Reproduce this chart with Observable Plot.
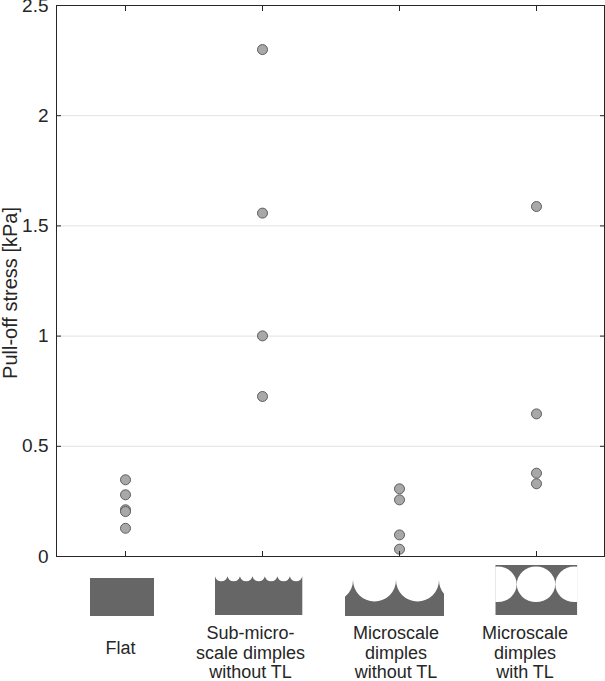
<!DOCTYPE html>
<html>
<head>
<meta charset="utf-8">
<script src="https://cdn.jsdelivr.net/npm/d3@7"></script>
<script src="https://cdn.jsdelivr.net/npm/@observablehq/plot@0.6"></script>
<style>
  html, body { margin: 0; padding: 0; background: white; }
</style>
</head>
<body>
<div id="chart"></div>
<script>
const categories = ["Flat", "Sub-micro-scale dimples without TL", "Microscale dimples without TL", "Microscale dimples with TL"];
const categoryLabels = ["Flat", "Sub-micro-\nscale dimples\nwithout TL", "Microscale\ndimples\nwithout TL", "Microscale\ndimples\nwith TL"];
const flatValues = [0.348, 0.28, 0.212, 0.204, 0.128];
const subMicroValues = [2.30, 1.558, 1.001, 0.726];
const microNoTLValues = [0.307, 0.257, 0.098, 0.033];
const microTLValues = [1.588, 0.647, 0.378, 0.33];
const yTicks = [0, 0.5, 1, 1.5, 2, 2.5];
const yLabel = "Pull-off stress [kPa]";

const series = [flatValues, subMicroValues, microNoTLValues, microTLValues];
const points = series.flatMap((vals, i) => vals.map(v => ({cat: categories[i], value: v})));
const labelRows = categories.map((c, i) => ({cat: c, label: categoryLabels[i]}));
// horizontal offsets of the label blocks relative to their ticks (layout only)
const labelShift = [-5, -12, -3.5, -11.5];
const labelDrop = [83.4, 69, 69, 69];

const ICON = "#666666";

function icons(index, scales) {
  const x = scales.x;
  const g = d3.create("svg:g");
  // Flat
  let cx = x(categories[0]);
  g.append("rect").attr("x", cx - 35).attr("y", 578).attr("width", 64).attr("height", 38).attr("fill", ICON);
  // Sub-micro dimples
  cx = x(categories[1]);
  {
    const x0 = cx - 47, x1 = cx + 40.3, n = 7, w = (x1 - x0) / n, yc = 576.3, s = 5;
    const r = (w * w / 4 + s * s) / (2 * s);
    let p = `M${x0},615 L${x0},${yc}`;
    for (let i = 1; i <= n; i++) p += ` A${r},${r} 0 0 0 ${x0 + w * i},${yc}`;
    p += ` L${x1},615 Z`;
    g.append("path").attr("d", p).attr("fill", ICON);
  }
  // Microscale dimples without TL
  cx = x(categories[2]);
  {
    const r = 21.5, yc = 580;
    const c = [cx - 46, cx - 3, cx + 40];
    const x0 = cx - 54, x1 = cx + 45;
    const yL = yc + Math.sqrt(r * r - Math.pow(x0 - (c[0] - r), 2));
    const yR = yc + Math.sqrt(r * r - Math.pow(x1 - (c[2] + r), 2));
    let p = `M${x0},616 L${x0},${yL} A${r},${r} 0 0 0 ${c[0]},${yc}`;
    p += ` A${r},${r} 0 0 0 ${c[1]},${yc} A${r},${r} 0 0 0 ${c[2]},${yc}`;
    p += ` A${r},${r} 0 0 0 ${x1},${yR} L${x1},616 Z`;
    g.append("path").attr("d", p).attr("fill", ICON);
  }
  // Microscale dimples with TL
  cx = x(categories[3]);
  {
    const left = cx - 40.7, right = cx + 41.3;
    const clipId = "tlclip";
    g.append("clipPath").attr("id", clipId).append("rect")
      .attr("x", left).attr("y", 565).attr("width", right - left).attr("height", 50);
    const gg = g.append("g").attr("clip-path", `url(#${clipId})`);
    gg.append("rect").attr("x", left).attr("y", 565).attr("width", right - left).attr("height", 50).attr("fill", ICON);
    [cx - 38.5, cx, cx + 38.5].forEach(ex => {
      gg.append("ellipse").attr("cx", ex).attr("cy", 584.3).attr("rx", 19.2).attr("ry", 17.8).attr("fill", "white");
    });
  }
  return g.node();
}

const labelMarks = labelRows.map((row, i) =>
  Plot.text([row], {x: "cat", text: "label", frameAnchor: "bottom", dx: labelShift[i], dy: labelDrop[i], lineAnchor: "top", lineHeight: 1.085, fontSize: 18, fill: "#262626"})
);

const chart = Plot.plot({
  width: 605,
  height: 681,
  marginLeft: 56,
  marginRight: 1,
  marginTop: 5,
  marginBottom: 125,
  style: {fontFamily: "'Liberation Sans', Arial, sans-serif", fontSize: "19px", color: "#262626", background: "white"},
  x: {type: "point", domain: categories, padding: 0.5},
  y: {domain: [0, 2.5]},
  marks: [
    Plot.gridY({ticks: yTicks.slice(1, -1), stroke: "#e2e2e2", strokeOpacity: 1}),
    Plot.dot(points, {x: "cat", y: "value", r: 5, fill: "#a8a8a8", stroke: "#5e5e5e", strokeWidth: 1}),
    Plot.frame({stroke: "#262626", strokeWidth: 1}),
    Plot.axisY({ticks: yTicks, anchor: "left", tickSize: -5, tickPadding: 13, tickFormat: d => String(d), label: null, fontSize: 19}),
    Plot.axisY({ticks: yTicks, anchor: "right", tickSize: -5, tickFormat: () => "", label: null}),
    Plot.axisX({anchor: "bottom", tickSize: -5, tickFormat: () => "", label: null}),
    Plot.axisX({anchor: "top", tickSize: -5, tickFormat: () => "", label: null}),
    Plot.text([yLabel], {frameAnchor: "left", rotate: -90, dx: -46, dy: 12, fontSize: 20, fill: "#262626", textAnchor: "middle", lineAnchor: "middle"}),
    icons,
    ...labelMarks
  ]
});
document.getElementById("chart").appendChild(chart);
</script>
</body>
</html>
